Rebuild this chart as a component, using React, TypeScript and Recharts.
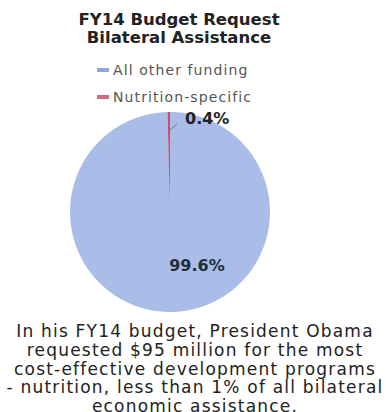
import React from 'react';
import { Customized, Pie, PieChart, Cell } from 'recharts';

const categories = ['All other funding', 'Nutrition-specific'];
const shares = [99.6, 0.4];
const sliceColors = ['#a9bde8', '#c94f6d'];
const legendColors = ['#8ea8dc', '#d46a7c'];
const titleLines = ['FY14 Budget Request', 'Bilateral Assistance'];
const noteLines = [
	'In his FY14 budget, President Obama',
	'requested $95 million for the most',
	'cost-effective development programs',
	'- nutrition, less than 1% of all bilateral',
	'economic assistance.',
];

const data = categories.map((name, i) => ({ name, value: shares[i] }));

const font = '"DejaVu Sans", Verdana, sans-serif';

const renderLabel = (props: any) => {
	const { cx, cy, outerRadius, index, percent } = props;
	const text = (percent * 100).toFixed(1) + '%';
	if (index === 0) {
		return (
			<text x={cx + outerRadius * 0.27} y={cy + outerRadius * 0.59} textAnchor="middle"
			      fontFamily={font} fontWeight="bold" fontSize={16} fill="#1f2d3d">{text}</text>
		);
	}
	return (
		<g>
			<line x1={cx} y1={cy - outerRadius * 0.82} x2={cx + 7} y2={cy - outerRadius * 0.88} stroke="#777" strokeWidth={1} />
			<text x={cx + 15} y={cy - outerRadius * 0.88} fontFamily={font} fontWeight="bold" fontSize={16} fill="#222">{text}</text>
		</g>
	);
};

// title, legend and note drawn straight into the svg so they don't push the pie around
const Texts = () => (
	<g fontFamily={font}>
		{titleLines.map((t, i) => (
			<text key={t} x={179} y={25 + i * 18} textAnchor="middle" fontWeight="bold" fontSize={16.5} fill="#222">{t}</text>
		))}
		{categories.map((c, i) => (
			<g key={c}>
				<rect x={97} y={68 + i * 27} width={12} height={4} fill={legendColors[i]} />
				<text x={113} y={75 + i * 27} fontSize={14} letterSpacing={1.1} fill="#555">{c}</text>
			</g>
		))}
		{noteLines.map((t, i) => (
			<text key={t} x={195} y={337 + i * 18.8} textAnchor="middle" fontSize={17} letterSpacing={1.2} fill="#222">{t}</text>
		))}
	</g>
);

export default function App() {
	return (
		<div style={{ position: 'absolute', left: 0, top: 0, background: '#fff' }}>
			<PieChart width={386} height={412} margin={{ top: 0, right: 0, bottom: 0, left: 0 }}>
				<Customized component={Texts} />
				<Pie data={data} dataKey="value" nameKey="name" cx={170} cy={212} outerRadius={100}
				     startAngle={90} endAngle={-270} stroke="none" label={renderLabel} labelLine={false}
				     isAnimationActive={false}>
					{data.map((d, i) => <Cell key={d.name} fill={sliceColors[i]} />)}
				</Pie>
			</PieChart>
		</div>
	);
}
